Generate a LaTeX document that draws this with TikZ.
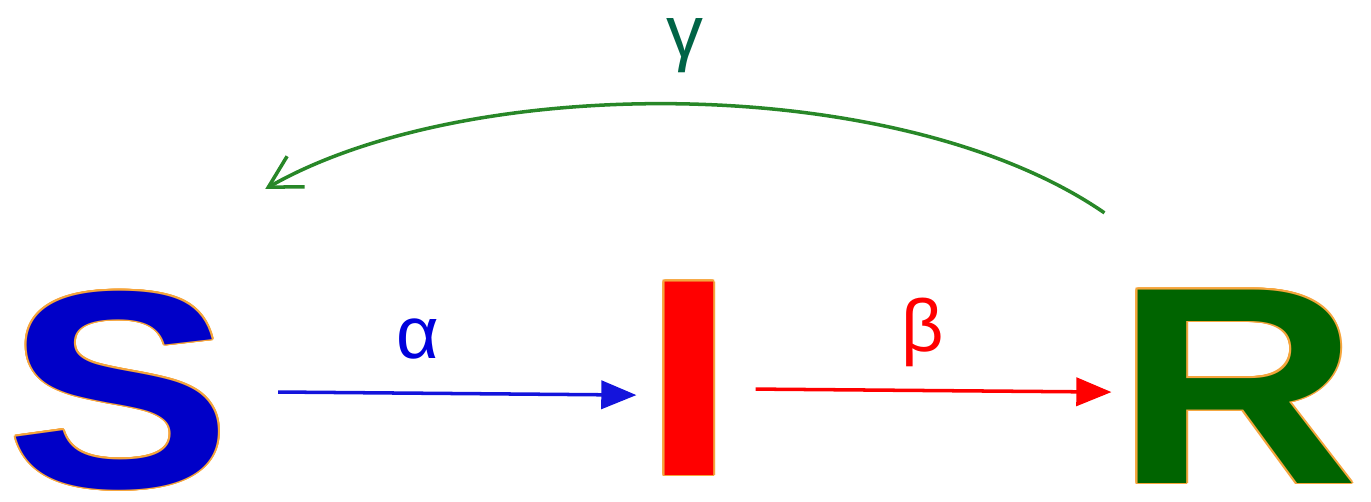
\documentclass[tikz,border=0pt]{standalone}
\usepackage{fontspec}
\setmainfont{Liberation Sans}
\usepackage{contour}
\usetikzlibrary{arrows.meta}

\definecolor{sblue}{RGB}{0,0,200}
\definecolor{ared}{RGB}{255,0,0}
\definecolor{rgreen}{RGB}{0,100,0}
\definecolor{curvegreen}{RGB}{40,135,40}
\definecolor{gammateal}{RGB}{0,100,70}
\definecolor{rim}{RGB}{245,165,60}
\definecolor{flowblue}{RGB}{20,20,220}
\definecolor{alphablue}{RGB}{0,0,220}
\contourlength{0.45pt}
\newcommand{\stretched}[1]{\scalebox{1.2}[1]{\contour{rim}{#1}}}

\begin{document}
\begin{tikzpicture}[
    letter/.style={anchor=base, inner sep=0pt, font=\fontsize{80}{80}\selectfont\bfseries},
    rate/.style={inner sep=0pt, font=\fontsize{21}{21}\selectfont},
    flow/.style={line width=1pt, -{Triangle[length=10pt,width=8pt]}},
    back/.style={line width=1pt, curvegreen, -{Straight Barb[length=9pt,width=10pt]}}
  ]
    % --- Frame of the picture ---
    \useasboundingbox (0,0) rectangle (13.71,5.01);

    % --- Compartments ---
    \node[letter, text=sblue]  (S) at (1.19,0.14)  {\stretched{S}};
    \node[letter, text=ared]   (I) at (6.89,0.26)  {\stretched{I}};
    \node[letter, text=rgreen] (R) at (12.37,0.18) {\stretched{R}};

    % --- Transitions ---
    \draw[flow, flowblue]
        ([xshift=4.6mm,yshift=-0.1mm]S.east)
        -- node[rate, pos=0.39, above=3.2mm, text=alphablue] (alpha) {α}
        ([xshift=-0.5mm,yshift=-1.6mm]I.west);
    \draw[flow, ared]
        ([xshift=1.9mm,yshift=-1.0mm]I.east)
        -- node[rate, pos=0.47, above=2.2mm, text=ared] (beta) {β}
        ([xshift=-0.3mm,yshift=-0.5mm]R.west);

    % --- Return of the recovered ---
    \draw[back]
        ([xshift=-1mm,yshift=7.6mm]R.north west)
        .. controls (9.00,4.29) and (4.70,4.29) ..
        node[rate, pos=0.5, above=3mm, text=gammateal] (gamma) {γ}
        ([xshift=3.3mm,yshift=10.1mm]S.north east);

\end{tikzpicture}
\end{document}
